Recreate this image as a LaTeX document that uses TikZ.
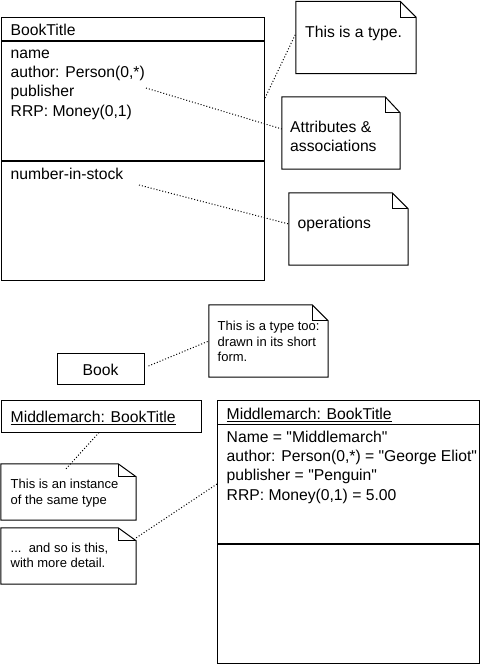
\documentclass[tikz,border=0pt]{standalone}
\usepackage{fontspec}
\setmainfont{Liberation Sans}
\newcommand\mainsz{\fontsize{15.7}{19}\selectfont}
\newcommand\smallsz{\fontsize{13}{16}\selectfont}
\newcommand\dq{\textquotedbl}
\newcommand\dognote[3]{%
  \draw[outline] (#1.north west) -- ([xshift=-#2]#1.north east) -- ([yshift=-#3]#1.north east) -- (#1.south east) -- (#1.south west) -- cycle;
  \draw[outline] ([xshift=-#2]#1.north east) -- ([xshift=-#2,yshift=-#3]#1.north east) -- ([yshift=-#3]#1.north east);}
\begin{document}
\begin{tikzpicture}[x=1pt,y=-1pt,
  outline/.style={line width=1pt,line join=miter},
  boxn/.style={draw,line width=1pt,inner sep=0pt},
  noten/.style={inner sep=0pt},
  txt/.style={anchor=base west,inner sep=0pt,font=\mainsz},
  stxt/.style={anchor=base west,inner sep=0pt,font=\smallsz},
  link/.style={line width=1pt,dash pattern=on 1pt off 2pt},
  divider/.style={line width=2pt}]
\useasboundingbox (0,0) rectangle (481,665);

% ---------- BookTitle type box ----------
\node[boxn,minimum width=263pt,minimum height=263pt] (bt) at (132.5,148.5) {};
\draw[divider] (1,41) -- (264,41);
\draw[divider] (1,161) -- (264,161);
\node[txt] (btname) at (10.5,35) {BookTitle};
\node[txt] (a1) at (10.5,58.3) {name};
\node[txt] (a2) at (10.5,77.7) {author: Person(0,*)};
\node[txt] (a3) at (10.5,96.7) {publisher};
\node[txt] (a4) at (10.5,116.7) {RRP: Money(0,1)};
\node[txt] (op1) at (10.5,179) {number-in-stock};

% ---------- notes (top) ----------
\node[noten,minimum width=120pt,minimum height=72pt] (n1) at (356,37.5) {};
\dognote{n1}{16pt}{16pt}
\node[txt] (n1t) at (305,37.3) {This is a type.};

\node[noten,minimum width=118pt,minimum height=72pt] (n2) at (341,133) {};
\dognote{n2}{15pt}{16pt}
\node[txt] (n2t1) at (290,132.7) {Attributes \&};
\node[txt] (n2t2) at (290,151.7) {associations};

\node[noten,minimum width=119pt,minimum height=72pt] (n3) at (348.5,229) {};
\dognote{n3}{16pt}{16pt}
\node[txt] (n3t) at (297.5,228.3) {operations};

\coordinate (c1) at (265,98);
\coordinate (c2) at (146,88);
\coordinate (c3) at (139,185);
\draw[link] (c1) -- ([yshift=4pt]n1.west);
\draw[link] (c2) -- ([yshift=4pt]n2.west);
\draw[link] (c3) -- ([yshift=5pt]n3.west);

% ---------- Book short form ----------
\node[boxn,minimum width=87pt,minimum height=31pt] (book) at (100.5,368.5) {};
\node[txt] (bookt) at (82.5,375) {Book};

\node[noten,minimum width=119pt,minimum height=72pt] (n4) at (268.5,341) {};
\dognote{n4}{16pt}{16pt}
\node[stxt] (n4t1) at (217.5,330) {This is a type too:};
\node[stxt] (n4t2) at (217.5,346) {drawn in its short};
\node[stxt] (n4t3) at (217.5,361.7) {form.};
\draw[link] ([xshift=4pt,yshift=2.5pt]book.east) -- (n4.west);

% ---------- Middlemarch short instance ----------
\node[boxn,minimum width=200pt,minimum height=32pt] (mm) at (101,416) {};
\node[txt] (mmt) at (10.5,422.3) {\underline{Middlemarch: BookTitle}};

\node[noten,minimum width=135pt,minimum height=56pt] (n5) at (68.5,492) {};
\dognote{n5}{18pt}{13pt}
\node[stxt] (n5t1) at (10.5,488.3) {This is an instance};
\node[stxt] (n5t2) at (10.5,504) {of the same type};
\coordinate (c5) at (65,470);
\draw[link] ([xshift=-2pt]mm.south) -- (c5);

\node[noten,minimum width=135pt,minimum height=56pt] (n6) at (68.5,556) {};
\dognote{n6}{18pt}{13pt}
\node[stxt] (n6t1) at (10.5,552.3) {...\ \ and so is this,};
\node[stxt] (n6t2) at (10.5,567.7) {with more detail.};

% ---------- Middlemarch full instance ----------
\node[boxn,minimum width=262pt,minimum height=263pt] (big) at (348,531.5) {};
\draw[outline] (217,424) -- (479,424);
\draw[divider] (217,544) -- (479,544);
\node[txt] (bigt) at (226.5,419.3) {\underline{Middlemarch: BookTitle}};
\node[txt] (b1) at (226.5,442.3) {Name = \dq Middlemarch\dq};
\node[txt] (b2) at (226.5,461.7) {author: Person(0,*) = \dq George Eliot\dq};
\node[txt] (b3) at (226.5,480.7) {publisher = \dq Penguin\dq};
\node[txt] (b4) at (226.5,500) {RRP: Money(0,1) = 5.00};
\coordinate (c6) at (217,484);
\draw[link] ([yshift=-10pt]n6.north east) -- (c6);
\end{tikzpicture}
\end{document}
